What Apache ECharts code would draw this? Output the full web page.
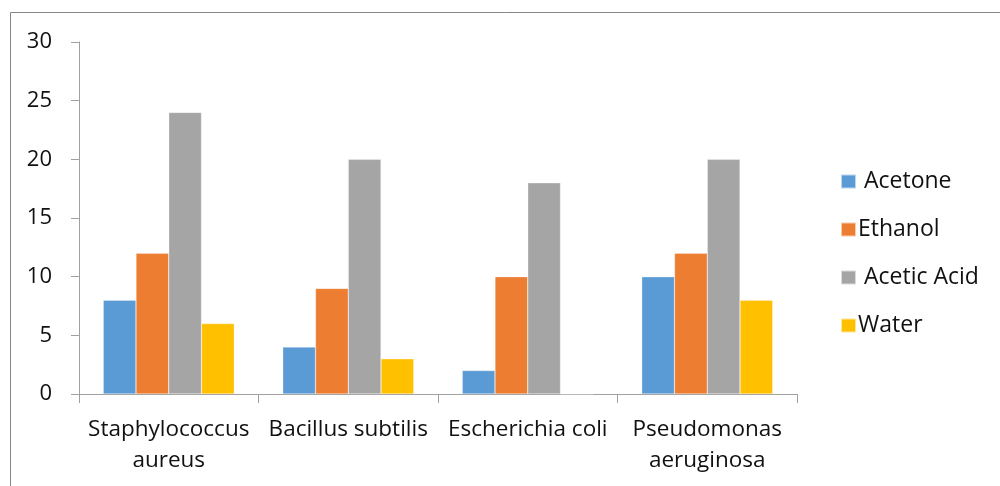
<!DOCTYPE html>
<html>
<head>
<meta charset="utf-8">
<script src="https://cdn.jsdelivr.net/npm/echarts@6/dist/echarts.min.js"></script>
<style>
  html, body { margin: 0; padding: 0; background: #fff; }
  #chart { width: 1000px; height: 486px; }
</style>
</head>
<body>
<div id="chart"></div>
<script>
const categories = ['Staphylococcus\naureus', 'Bacillus subtilis', 'Escherichia coli', 'Pseudomonas\naeruginosa'];
const seriesNames = [' Acetone', 'Ethanol', ' Acetic Acid', 'Water'];
const acetone = [8, 4, 2, 10];
const ethanol = [12, 9, 10, 12];
const aceticAcid = [24, 20, 18, 20];
const water = [6, 3, 0, 8];
const yTicks = [0, 5, 10, 15, 20, 25, 30];

const colors = ['#5B9BD5', '#ED7D31', '#A5A5A5', '#FFC000'];
const values = [acetone, ethanol, aceticAcid, water];
const FONT = 'Open Sans';

const chart = echarts.init(document.getElementById('chart'), null, { renderer: 'canvas' });
chart.setOption({
  animation: false,
  backgroundColor: '#fff',
  color: colors,
  graphic: [{
    type: 'rect',
    shape: { x: 10.5, y: 12.5, width: 1100, height: 600 },
    style: { fill: 'none', stroke: '#878787', lineWidth: 1 },
    silent: true,
    z: -1
  }],
  grid: { left: 79, right: 203, top: 42, bottom: 92, containLabel: false },
  legend: {
    orient: 'vertical',
    left: 835,
    top: 165,
    icon: 'rect',
    itemWidth: 15,
    itemHeight: 14,
    itemGap: 25,
    textStyle: { fontFamily: FONT, fontSize: 23, color: '#111', padding: [0, 0, 0, -3] },
    data: seriesNames
  },
  xAxis: {
    type: 'category',
    data: categories,
    axisLine: { lineStyle: { color: '#A0A0A0', width: 1 } },
    axisTick: { show: true, length: 9, lineStyle: { color: '#A0A0A0' } },
    axisLabel: {
      interval: 0,
      margin: 20,
      fontFamily: FONT,
      fontSize: 22.5,
      color: '#111',
      lineHeight: 31
    }
  },
  yAxis: {
    type: 'value',
    min: 0,
    max: 30,
    interval: 5,
    axisLine: { show: true, lineStyle: { color: '#A0A0A0', width: 1 } },
    axisTick: { show: true, length: 8, lineStyle: { color: '#A0A0A0' } },
    splitLine: { show: false },
    axisLabel: {
      margin: 27,
      fontFamily: FONT,
      fontSize: 22,
      color: '#111',
      formatter: function (v) { return yTicks.indexOf(v) >= 0 ? String(v) : ''; }
    }
  },
  series: seriesNames.map(function (name, i) {
    return {
      name: name,
      type: 'bar',
      data: values[i],
      barGap: '0%',
      barCategoryGap: '27%',
      itemStyle: { color: colors[i], borderColor: 'rgba(255,255,255,0.6)', borderWidth: 0.5 }
    };
  })
});
</script>
</body>
</html>
